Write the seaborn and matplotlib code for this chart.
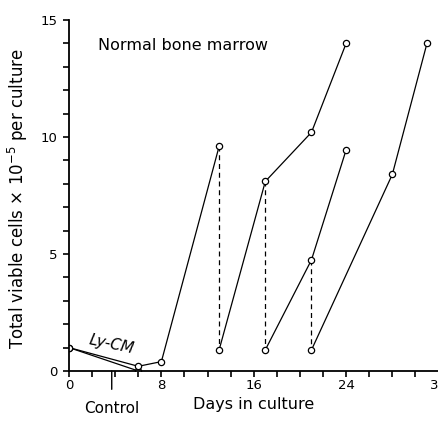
import matplotlib
matplotlib.use("Agg")
import matplotlib.pyplot as plt
import seaborn as sns
import pandas as pd

# days in culture / total viable cells (x 10^-5) per culture
control_days = [0, 6]
control_cells = [1.0, 0.0]
lycm_days = [0, 6, 8, 13]
lycm_cells = [1.0, 0.2, 0.4, 9.6]
passage1_days = [13, 17, 21, 24]
passage1_cells = [0.9, 8.1, 10.2, 14.0]
passage2_days = [17, 21, 24]
passage2_cells = [0.9, 4.75, 9.45]
passage3_days = [21, 28, 31]
passage3_cells = [0.9, 8.4, 14.0]

# reseeding drops (dashed): day, count before, count after
drop_days = [13, 17, 21]
drop_before = [9.6, 8.1, 4.75]
drop_after = [0.9, 0.9, 0.9]

xticks = [0, 8, 16, 24, 32]
yticks = [0, 5, 10, 15]

frames = []
for name, d, c in [("control", control_days, control_cells),
                   ("lycm", lycm_days, lycm_cells),
                   ("p1", passage1_days, passage1_cells),
                   ("p2", passage2_days, passage2_cells),
                   ("p3", passage3_days, passage3_cells)]:
    frames.append(pd.DataFrame({"seg": name, "day": d, "cells": c}))
df = pd.concat(frames, ignore_index=True)

sns.set_style("ticks")
plt.rcParams["font.family"] = ["DejaVu Sans"]
plt.rcParams["text.color"] = "black"
plt.rcParams["axes.labelcolor"] = "black"
plt.rcParams["xtick.color"] = "black"
plt.rcParams["ytick.color"] = "black"

fig = plt.figure(figsize=(4.39, 4.22), dpi=100)
ax = fig.add_axes([0.1572, 0.1209, 0.8417, 0.8318])

for i in range(len(drop_days)):
    ax.plot([drop_days[i], drop_days[i]], [drop_before[i], drop_after[i]],
            color="black", lw=0.9, ls=(0, (4, 3)), zorder=1)

sns.lineplot(data=df, x="day", y="cells", units="seg", estimator=None,
             sort=False, color="black", lw=0.9, marker="o", markersize=4.5,
             markerfacecolor="white", markeredgecolor="black",
             markeredgewidth=0.9, ax=ax, zorder=2)

ax.set_xlim(0, 32)
ax.set_ylim(0, 15)
ax.set_xticks(xticks)
ax.set_xticks(range(0, 33, 2), minor=True)
ax.set_yticks(yticks)
ax.set_yticks(range(0, 16), minor=True)
ax.tick_params(which="both", direction="out", length=4, width=1.2,
               color="black", labelcolor="black", labelsize=9.5)
ax.tick_params(axis="x", pad=2)
ax.tick_params(axis="y", pad=4)
for s in ["left", "bottom"]:
    ax.spines[s].set_linewidth(1.3)
    ax.spines[s].set_color("black")
sns.despine(ax=ax)

ax.set_xlabel("Days in culture", fontsize=11.5)
ax.xaxis.set_label_coords(0.5, -0.074)
ax.set_ylabel(r"Total viable cells $\times$ 10$^{-5}$ per culture", fontsize=12)
ax.yaxis.set_label_coords(-0.105, 0.491)

ax.text(2.5, 13.9, "Normal bone marrow", fontsize=11.5, va="center", ha="left")
ax.text(3.7, 1.15, "Ly-CM", fontsize=11, style="italic", rotation=-12,
        ha="center", va="center")
ax.annotate("Control", xy=(3.7, 0), xytext=(3.7, -1.6), fontsize=11,
            ha="center", va="center", annotation_clip=False,
            arrowprops=dict(arrowstyle="-", color="black", lw=1.0,
                            shrinkA=6, shrinkB=0))

fig.savefig("out.png", dpi=100)
